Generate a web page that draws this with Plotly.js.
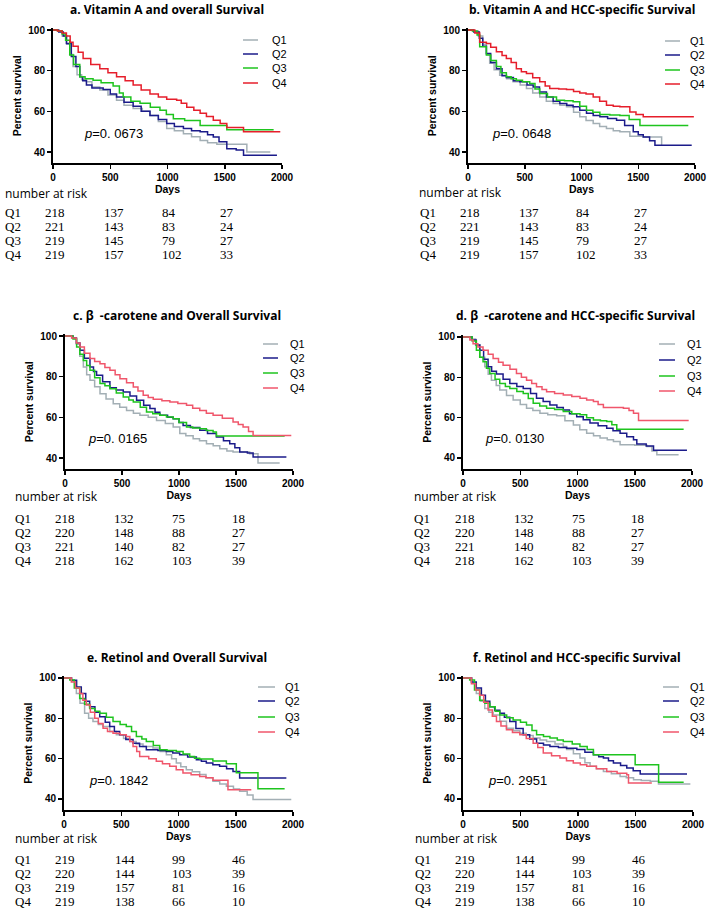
<!DOCTYPE html>
<html>
<head>
<meta charset="utf-8">
<script src="https://cdn.plot.ly/plotly-3.0.1.min.js"></script>
<style>html,body{margin:0;padding:0;background:#fff;}#chart{width:711px;height:910px;}</style>
</head>
<body>
<div id="chart"></div>
<script>
// ---------- DATA ----------
const quartiles = ['Q1','Q2','Q3','Q4'];
const dayTicks = [0,500,1000,1500,2000];
const pctTicks = [40,60,80,100];

const panelTitles = [
  'a. Vitamin A and overall Survival',
  'b. Vitamin A and HCC-specific Survival',
  'c. \u03b2\u00a0\u00a0-carotene and Overall Survival',
  'd. \u03b2\u00a0\u00a0-carotene and HCC-specific Survival',
  'e. Retinol and Overall Survival',
  'f. Retinol and HCC-specific Survival'
];
const pValues = ['0. 0673','0. 0648','0. 0165','0. 0130','0. 1842','0. 2951'];

// number at risk (rows Q1..Q4)
const riskVitA = [[218,137,84,27],[221,143,83,24],[219,145,79,27],[219,157,102,33]];
const riskBeta = [[218,132,75,18],[220,148,88,27],[221,140,82,27],[218,162,103,39]];
const riskRet  = [[219,144,99,46],[220,144,103,39],[219,157,81,16],[219,138,66,10]];

// survival curves [day, percent]
const a_Q1 = [[0,100],[40,99.5],[80,97],[120,93],[150,88],[175,82],[210,78],[250,75.5],[292,74.5],[340,72],[409,70.5],[480,68],[555,65.5],[620,63],[700,61.4],[780,60],[847,58],[920,55],[993,51.5],[1060,50.5],[1139,49],[1210,47.5],[1285,45.7],[1350,44.5],[1431,43.8],[1693,40],[1898,40]];
const a_Q2 = [[0,100],[50,99],[90,97],[117,93.4],[160,87],[200,82],[234,77],[260,75],[292,73],[340,71.5],[438,70.7],[500,68.5],[555,67],[620,64.5],[700,62.5],[770,60],[847,58],[920,56],[993,54],[1060,52.5],[1139,51.5],[1210,50.5],[1285,50],[1350,48.5],[1400,47.4],[1450,45],[1518,41.6],[1600,41],[1664,38.4],[1956,38.4]];
const a_Q3 = [[0,100],[40,99.5],[80,98],[110,95],[146,87.7],[180,83],[234,77],[280,76],[350,75.3],[420,74],[525,72.4],[580,69],[613,67],[680,65],[760,64],[850,62],[934,60.5],[990,58.5],[1051,56.4],[1150,55.5],[1285,53],[1400,53],[1518,51],[1927,51]];
const a_Q4 = [[0,100],[40,99.5],[80,98.5],[117,97],[150,94],[175,92],[220,89],[263,86],[330,83],[409,81],[480,79],[555,77],[630,75],[700,73],[770,70.5],[847,68.5],[920,67],[993,66],[1080,65.5],[1120,64],[1168,62],[1230,60.5],[1285,59],[1340,57.5],[1400,55.6],[1460,54],[1518,52],[1664,50],[1985,50]];

const b_Q1 = [[0,100],[40,99.5],[90,97],[130,93],[162,88],[191,83.6],[230,80.5],[279,77.8],[340,76],[397,74.5],[460,73],[515,71.2],[570,69],[632,67],[690,65],[750,63.8],[810,63],[868,62.2],[930,59.5],[985,57.3],[1040,55.5],[1103,54],[1160,52.5],[1220,51.5],[1280,50.5],[1338,49.9],[1426,47.7],[1544,47.4],[1706,43.8],[1712,43.8]];
const b_Q2 = [[0,100],[50,99],[100,96],[130,92],[162,88.5],[200,84],[250,81],[300,77.5],[338,76.6],[400,75],[456,74.5],[520,73],[574,72],[630,69.5],[691,67],[750,65],[809,63.8],[870,63],[926,62.2],[985,60.5],[1044,59],[1103,58],[1162,57.3],[1230,56.5],[1309,55.6],[1380,53],[1456,49.9],[1500,48.5],[1544,47.4],[1600,45.5],[1647,43.3],[1971,43.3]];
const b_Q3 = [[0,100],[40,99.5],[80,97.5],[103,91.8],[162,87.7],[200,85],[250,82],[290,79],[338,77],[380,76],[426,75.3],[480,74.5],[544,73.7],[590,71],[632,68.8],[700,67],[780,65.5],[850,65.2],[926,64.7],[985,62.5],[1044,60.5],[1100,59.5],[1162,58.4],[1250,58.2],[1338,58],[1420,56],[1515,53],[1941,53]];
const b_Q4 = [[0,100],[30,100],[60,98.5],[103,94],[162,93.4],[200,91.5],[250,89.3],[300,87.5],[338,86],[380,84],[426,81],[470,79.5],[515,78.6],[570,76.5],[632,74.5],[680,72.5],[720,71.2],[800,71],[868,70.7],[930,69.8],[985,69],[1040,68.5],[1103,67],[1160,65],[1220,63],[1280,62.5],[1338,62.2],[1426,59.7],[1480,58.5],[1544,57.3],[1990,57.3]];

const c_Q1 = [[0,100],[30,100],[60,99],[100,96],[130,90],[161,84.8],[190,81],[219,78.2],[260,75],[307,71.6],[360,69],[423,66.7],[480,65],[540,63.4],[600,62],[657,61],[730,60],[803,58.5],[880,57],[949,55.2],[1007,52],[1060,51],[1124,49.5],[1180,48.5],[1241,47],[1300,46],[1358,44.6],[1420,43.5],[1474,43],[1620,42.1],[1693,37.5],[1883,37.5]];
const c_Q2 = [[0,100],[40,100],[70,99],[100,96.5],[131,93],[170,89],[219,84.8],[250,82.5],[277,80.7],[330,77.5],[394,74.6],[450,73.5],[511,72.5],[570,70.5],[628,68.4],[690,66],[745,64.3],[790,62.5],[832,61],[900,60],[949,59.3],[1000,57.5],[1036,56],[1100,55],[1182,53.6],[1250,52],[1328,50.3],[1390,48.5],[1445,47],[1490,45],[1533,43],[1600,42.5],[1650,40.5],[1942,40.5]];
const c_Q3 = [[0,100],[40,100],[70,98.5],[102,94.6],[130,91],[161,88],[190,85.5],[219,83.1],[260,79.5],[307,76.6],[350,75.5],[394,74.1],[450,72],[511,70],[560,68.5],[599,67.5],[660,65],[715,62.6],[770,61.8],[832,61],[890,60.2],[949,59.3],[1000,57.5],[1066,55.2],[1120,54.8],[1182,54.4],[1240,53.5],[1299,52.8],[1328,50.8],[1927,50.8]];
const c_Q4 = [[0,100],[30,100],[58,99],[100,96.5],[131,94.6],[170,91.5],[219,88.9],[260,87.5],[307,86.4],[350,84.5],[394,83.1],[440,81],[482,79],[540,77],[599,74.9],[640,73],[686,70.8],[730,69.8],[774,68.9],[850,68.2],[920,67.5],[990,66.8],[1066,65.9],[1120,64.5],[1182,63.4],[1240,62],[1299,61],[1380,59.5],[1474,57.7],[1520,56.5],[1562,55.2],[1610,53],[1650,51.1],[1985,51.1]];

const d_Q1 = [[0,100],[40,100],[70,99],[110,96],[150,90],[190,85.2],[220,81.5],[248,78.6],[290,76],[321,73.7],[380,71],[438,68.8],[500,66.5],[555,64.7],[610,63.5],[672,62.2],[740,61.5],[818,60.9],[890,58.5],[964,56.4],[1020,54],[1080,52.3],[1140,51],[1197,49.9],[1260,49],[1314,48.2],[1372,46.6],[1500,46.3],[1606,45.7],[1650,43.5],[1693,41.6],[1883,41.6]];
const d_Q2 = [[0,100],[40,100],[80,98.5],[115,96],[146,93.4],[180,89],[219,85.2],[250,83],[292,81.6],[350,79],[409,77],[470,75.5],[526,74.5],[590,72],[642,69.6],[700,68],[759,66.3],[820,65],[876,63.8],[930,62],[993,60.5],[1050,59],[1109,57.3],[1180,56],[1255,54.8],[1310,53.5],[1372,52.3],[1430,50.5],[1489,49],[1518,47],[1600,46],[1664,43.8],[1956,43.8]];
const d_Q3 = [[0,100],[40,100],[80,98],[117,93.4],[146,90],[175,87.7],[205,84.5],[234,81.9],[280,79],[321,77],[370,75.5],[409,74.5],[470,73],[526,72],[570,69.5],[613,67.1],[670,65.8],[730,64.7],[800,64],[876,63],[950,62],[1022,61.4],[1080,60],[1139,58.9],[1200,58.5],[1255,58.1],[1300,56.5],[1343,54.3],[1927,54.3]];
const d_Q4 = [[0,100],[30,100],[60,98.5],[88,96.7],[130,95],[175,93.4],[220,91.5],[263,89.3],[310,87.5],[350,86],[410,84],[467,81.9],[510,80],[555,78.6],[600,77],[642,75.3],[690,74],[730,72.9],[800,72],[876,71.2],[950,70.5],[1022,69.6],[1080,68.8],[1139,68],[1180,66.5],[1226,65.1],[1300,65],[1401,64.7],[1450,63.5],[1489,62.2],[1533,58.6],[1971,58.6]];

const e_Q1 = [[0,100],[40,100],[70,98.5],[108,92.3],[140,87.5],[180,82.5],[215,80],[253,78.4],[300,77],[341,75.9],[400,73.5],[457,71.8],[520,70],[574,68.5],[630,67.3],[690,66],[777,65.3],[840,63.5],[894,62],[940,60],[981,57.9],[1020,56],[1068,54.5],[1120,53.5],[1185,52.1],[1240,50.5],[1301,48.8],[1360,47.5],[1418,46.3],[1480,45],[1534,43.8],[1600,42],[1651,39.7],[1985,39.7]];
const e_Q2 = [[0,100],[30,100],[64,98.9],[110,95.5],[151,92.3],[190,88.5],[224,85.7],[270,83],[312,80.8],[360,78],[399,75.9],[440,73.5],[486,71.8],[540,69.5],[603,67.7],[660,66],[719,64.4],[820,64],[894,63.6],[950,62.8],[1010,62],[1080,60.8],[1156,59.5],[1200,58.7],[1243,57.9],[1300,57],[1359,56.2],[1420,55],[1476,53.7],[1534,50.4],[1942,50.4]];
const e_Q3 = [[0,100],[30,100],[50,99],[90,95],[137,89.8],[180,87],[224,84.9],[270,83.5],[312,82.5],[370,80.5],[428,78.4],[490,77],[544,75.9],[590,73.5],[632,71],[680,69.8],[719,68.5],[780,66.5],[836,64.4],[900,64],[981,63.6],[1040,62.3],[1098,61.1],[1140,60.2],[1185,59.8],[1300,58.8],[1418,57.5],[1505,53],[1694,45.1],[1927,45.1]];
const e_Q4 = [[0,100],[30,100],[64,98],[100,95],[137,92.3],[165,89],[195,86.6],[230,83],[268,80],[300,77.5],[341,75.1],[380,73.5],[428,72.6],[490,71.8],[544,71],[575,68.5],[603,66],[635,63.5],[661,61.1],[740,60],[806,58.7],[860,57.5],[923,56.2],[980,54.5],[1039,52.9],[1110,52],[1185,51.2],[1240,50.5],[1301,49.3],[1432,44.6],[1636,44.6]];

const f_Q1 = [[0,100],[40,100],[80,97.5],[116,92.3],[150,88.5],[189,84.9],[225,83],[262,81.6],[320,78.5],[378,75.1],[440,73.8],[494,72.6],[550,71.5],[610,70.2],[670,69.3],[727,68.5],[800,67.3],[872,66],[901,64.5],[960,62.5],[1017,60.3],[1060,58],[1105,56.2],[1160,55],[1221,53.7],[1290,52.5],[1366,51.2],[1420,50.5],[1483,49.6],[1550,49.2],[1628,48.8],[1700,47.5],[1977,47.5]];
const f_Q2 = [[0,100],[40,100],[73,98],[115,95],[160,91.5],[195,88.5],[233,85.7],[275,84],[320,82.5],[360,80.5],[407,78.4],[460,75],[523,71.8],[580,69.8],[640,67.7],[700,66.8],[756,66],[830,65.6],[901,65.2],[990,64.5],[1060,63.2],[1134,62],[1180,61],[1221,60.3],[1265,59],[1308,57.9],[1370,56.6],[1424,55.4],[1480,54],[1541,52.4],[1948,52.4]];
const f_Q3 = [[0,100],[30,100],[58,99],[100,94],[145,89],[190,87.5],[233,85.7],[280,83.5],[320,81.6],[380,80.3],[436,79.2],[500,78],[552,76.7],[600,74],[640,71.8],[700,71],[756,70.2],[820,69.3],[872,68.5],[950,67.3],[1017,66],[1080,64.5],[1134,62],[1497,57],[1701,48.3],[1919,48.3]];
const f_Q4 = [[0,100],[30,100],[73,97.2],[110,94],[145,91.5],[180,88],[218,84.1],[255,81],[291,78.4],[330,76.2],[378,74.3],[430,73],[494,71.8],[550,70],[610,67.7],[650,65.5],[698,62.8],[770,61.5],[843,60.3],[900,59],[959,57.9],[1020,57],[1076,56.2],[1160,55],[1250,53.7],[1340,52.8],[1424,52],[1439,47.9],[1642,47.9]];

const curves = [
  [a_Q1,a_Q2,a_Q3,a_Q4],[b_Q1,b_Q2,b_Q3,b_Q4],[c_Q1,c_Q2,c_Q3,c_Q4],
  [d_Q1,d_Q2,d_Q3,d_Q4],[e_Q1,e_Q2,e_Q3,e_Q4],[f_Q1,f_Q2,f_Q3,f_Q4]
];
const risks = [riskVitA, riskVitA, riskBeta, riskBeta, riskRet, riskRet];

// ---------- LAYOUT (pixel positions) ----------
const W = 711, H = 910;
const panelCfg = [
 {x0:53, x1:282, y100:30, y40:152, tX:167, tY:10, pX:82, pY:133, legL:[243,258], legT:270, legY:[40,54,68,83], narX:3, narY:193, qX:3, rowY:[213,255], colX:[43,102,160,218], red:'#e61e2b'},
 {x0:468, x1:695, y100:30, y40:152, tX:582, tY:10, pX:490, pY:133, legL:[665,680], legT:688, legY:[41,55,70,84], narX:417, narY:192, qX:418, rowY:[212,255], colX:[458,517,574,632], red:'#e61e2b'},
 {x0:65, x1:293, y100:336, y40:458, tX:177, tY:315, pX:86, pY:438, legL:[263,278], legT:288, legY:[344,358,373,388], narX:13, narY:497, qX:13, rowY:[519,560], colX:[53,112,170,230], red:'#f0566b'},
 {x0:463, x1:692, y100:337, y40:458, tX:575, tY:315, pX:483, pY:438, legL:[659,675], legT:685, legY:[344,360,376,391], narX:412, narY:497, qX:412, rowY:[519,560], colX:[453,512,570,629], red:'#f0566b'},
 {x0:64, x1:293, y100:678, y40:799, tX:177, tY:657, pX:87, pY:780, legL:[258,275], legT:283, legY:[687,701,717,732], narX:13, narY:838, qX:13, rowY:[859,901], colX:[53,113,170,230], red:'#f0566b'},
 {x0:463, x1:693, y100:678, y40:799, tX:577, tY:657, pX:486, pY:780, legL:[663,679], legT:688, legY:[687,701,717,732], narX:413, narY:838, qX:413, rowY:[859,901], colX:[453,513,570,630], red:'#f0566b'}
];
const baseColors = ['#a3afb5','#1b1b8a','#1ec41e'];

const px = v => v / W;
const py = v => 1 - v / H;
const AX_FONT = {family:'Liberation Sans, Arial, sans-serif', size:10, color:'#000', weight:'bold'};
const TABLE_FONT = {family:'Liberation Serif, Times New Roman, serif', size:10.8, color:'#000'};
const big = s => '<span style="font-size:13px">' + s + '</span>';

const traces = [], annotations = [], shapes = [];
const layout = {
  width: W, height: H, margin:{l:0,r:0,t:0,b:0},
  paper_bgcolor:'#fff', plot_bgcolor:'rgba(0,0,0,0)', showlegend:false,
  annotations, shapes
};

panelCfg.forEach((p, i) => {
  const k = i + 1;
  const ppu = (p.y40 - p.y100) / 60;
  const topPx = p.y100 - 0.8 * ppu, botPx = p.y40 + 5.5 * ppu;
  const yLo = 40 - 5.5, yHi = 100.8;
  const colors = baseColors.concat([p.red]);

  layout['xaxis' + k] = {
    domain:[px(p.x0), px(p.x1)], range:[0,2000], anchor:'y'+k,
    tickvals: dayTicks, ticks:'outside', ticklen:4, tickwidth:1.5, tickcolor:'#000',
    showline:true, linecolor:'#000', linewidth:2, showgrid:false, zeroline:false,
    tickfont: AX_FONT, fixedrange:true,
    title:{text:'Days', font:{family:'Liberation Sans, Arial, sans-serif', size:10.5, color:'#000', weight:'bold'}, standoff:3}
  };
  layout['yaxis' + k] = {
    domain:[py(botPx), py(topPx)], range:[yLo, yHi], anchor:'x'+k,
    tickvals: pctTicks, ticks:'outside', ticklen:4, tickwidth:1.5, tickcolor:'#000',
    showline:true, linecolor:'#000', linewidth:2, showgrid:false, zeroline:false,
    tickfont: AX_FONT, fixedrange:true,
    title:{text:'Percent survival', font:{family:'Liberation Sans, Arial, sans-serif', size:10.5, color:'#000', weight:'bold'}, standoff:5}
  };

  curves[i].forEach((c, q) => {
    traces.push({
      type:'scatter', mode:'lines', name: quartiles[q],
      x: c.map(d => d[0]), y: c.map(d => d[1]),
      line:{shape:'hv', color: colors[q], width:1.5},
      xaxis:'x'+k, yaxis:'y'+k, hoverinfo:'skip', cliponaxis:true
    });
  });

  // title
  annotations.push({xref:'paper', yref:'paper', x:px(p.tX), y:py(p.tY), xanchor:'center', yanchor:'middle',
    text: panelTitles[i], showarrow:false,
    font:{family:'Open Sans, sans-serif', size:12, color:'#000', weight:'bold'}});
  // p-value
  annotations.push({xref:'paper', yref:'paper', x:px(p.pX), y:py(p.pY), xanchor:'left', yanchor:'middle',
    text:'<i>p</i>=' + pValues[i], showarrow:false,
    font:{family:'Liberation Sans, Arial, sans-serif', size:13, color:'#000'}});
  // legend
  quartiles.forEach((q, j) => {
    shapes.push({type:'line', xref:'paper', yref:'paper', x0:px(p.legL[0]), x1:px(p.legL[1]),
      y0:py(p.legY[j]), y1:py(p.legY[j]), line:{color:colors[j], width:1.5}});
    annotations.push({xref:'paper', yref:'paper', x:px(p.legT), y:py(p.legY[j]), xanchor:'left', yanchor:'middle',
      text:q, showarrow:false, font:{family:'Liberation Sans, Arial, sans-serif', size:11, color:'#000'}});
  });
  // number at risk table (one text block per column)
  annotations.push({xref:'paper', yref:'paper', x:px(p.narX), y:py(p.narY), xanchor:'left', yanchor:'middle',
    text:'number at risk', showarrow:false, font:{family:'Open Sans, sans-serif', size:12, color:'#000'}});
  const midY = (p.rowY[0] + p.rowY[1]) / 2;
  annotations.push({xref:'paper', yref:'paper', x:px(p.qX), y:py(midY), xanchor:'left', yanchor:'middle', align:'left',
    text: quartiles.map(big).join('<br>'), showarrow:false, font:TABLE_FONT});
  for (let c = 0; c < 4; c++) {
    annotations.push({xref:'paper', yref:'paper', x:px(p.colX[c]), y:py(midY), xanchor:'left', yanchor:'middle', align:'left',
      text: risks[i].map(row => big(String(row[c]))).join('<br>'), showarrow:false, font:TABLE_FONT});
  }
});

Plotly.newPlot('chart', traces, layout, {displayModeBar:false, staticPlot:true});
</script>
</body>
</html>
